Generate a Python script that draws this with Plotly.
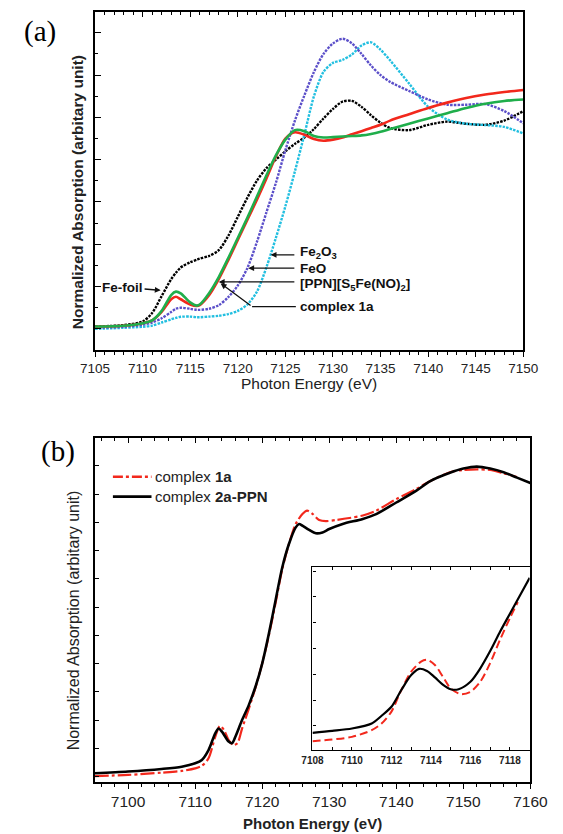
import plotly.graph_objects as go

W, H = 563, 834

# ---------------- Panel (a) data ----------------
energy_a = [7105, 7108, 7110, 7111, 7112, 7113, 7113.5, 7114, 7115, 7115.7, 7116, 7117, 7118,
            7119, 7120, 7121, 7122, 7123, 7124, 7125, 7126, 7127, 7128, 7129, 7130, 7131,
            7132, 7133, 7134, 7135, 7136, 7138, 7140, 7142, 7144, 7146, 7148, 7150]
fe_foil = [0.011, 0.018, 0.035, 0.075, 0.155, 0.235, 0.265, 0.29, 0.315, 0.327, 0.332, 0.345, 0.372,
           0.44, 0.53, 0.62, 0.70, 0.76, 0.80, 0.84, 0.875, 0.905, 0.945, 0.995, 1.04, 1.075,
           1.078, 1.05, 1.01, 0.975, 0.95, 0.94, 0.965, 0.98, 0.97, 0.965, 0.985, 1.03]
complex_1a_a = [0.011, 0.015, 0.027, 0.04, 0.08, 0.14, 0.152, 0.14, 0.115, 0.108, 0.112, 0.16, 0.235,
                0.325, 0.42, 0.515, 0.61, 0.71, 0.815, 0.9, 0.93, 0.918, 0.898, 0.89, 0.895, 0.905,
                0.92, 0.935, 0.95, 0.965, 0.985, 1.015, 1.045, 1.07, 1.092, 1.108, 1.12, 1.13]
ppn_s5fe = [0.011, 0.015, 0.027, 0.04, 0.085, 0.16, 0.176, 0.168, 0.125, 0.11, 0.115, 0.17, 0.245,
            0.335, 0.43, 0.525, 0.625, 0.725, 0.82, 0.895, 0.94, 0.935, 0.912, 0.905, 0.907, 0.91,
            0.912, 0.915, 0.922, 0.932, 0.945, 0.97, 0.995, 1.02, 1.045, 1.065, 1.078, 1.085]
feo = [0.005, 0.01, 0.02, 0.03, 0.05, 0.08, 0.095, 0.1, 0.095, 0.09, 0.09, 0.095, 0.112,
       0.15, 0.205, 0.287, 0.41, 0.55, 0.69, 0.845, 0.985, 1.105, 1.215, 1.30, 1.35, 1.372,
       1.35, 1.30, 1.245, 1.20, 1.168, 1.125, 1.085, 1.06, 1.06, 1.063, 1.03, 0.972]
fe2o3 = [0.0, 0.005, 0.01, 0.015, 0.03, 0.045, 0.052, 0.057, 0.058, 0.055, 0.055, 0.058, 0.062,
         0.07, 0.085, 0.115, 0.175, 0.29, 0.43, 0.58, 0.745, 0.92, 1.10, 1.215, 1.258, 1.272,
         1.298, 1.34, 1.355, 1.32, 1.27, 1.16, 1.05, 0.99, 0.97, 0.964, 0.955, 0.924]

# ---------------- Panel (b) data ----------------
energy_b_2a = [7095, 7100, 7105, 7108, 7110, 7111, 7112, 7113, 7113.5, 7114, 7115, 7115.5, 7116,
               7117, 7118, 7119, 7120, 7121, 7122, 7123, 7124, 7125, 7125.5, 7126, 7127, 7128,
               7129, 7130, 7132, 7135, 7137, 7140, 7143, 7145, 7148, 7150, 7152, 7154, 7156,
               7158, 7160]
complex_2a_ppn = [0.012, 0.018, 0.027, 0.035, 0.047, 0.059, 0.094, 0.153, 0.17, 0.159, 0.124, 0.118,
                  0.141, 0.2, 0.253, 0.318, 0.4, 0.506, 0.624, 0.741, 0.824, 0.882, 0.894, 0.888,
                  0.873, 0.861, 0.864, 0.876, 0.894, 0.912, 0.929, 0.97, 1.012, 1.045, 1.075,
                  1.09, 1.097, 1.09, 1.077, 1.058, 1.039]
energy_b_1a = [7095, 7100, 7105, 7108, 7110, 7111, 7112, 7113, 7113.7, 7114.3, 7115, 7115.7,
               7116.3, 7117, 7118, 7119, 7120, 7121, 7122, 7123, 7124, 7125, 7126, 7126.7,
               7127.5, 7128.5, 7129.5, 7131, 7133, 7135, 7137, 7140, 7143, 7145, 7148, 7150,
               7152, 7154, 7156, 7158]
complex_1a_b = [0.002, 0.006, 0.014, 0.02, 0.029, 0.038, 0.065, 0.141, 0.179, 0.165, 0.129, 0.112,
                0.118, 0.17, 0.24, 0.315, 0.4, 0.5, 0.615, 0.735, 0.824, 0.894, 0.929, 0.941,
                0.93, 0.908, 0.904, 0.908, 0.915, 0.924, 0.941, 0.982, 1.018, 1.045, 1.077,
                1.085, 1.087, 1.085, 1.073, 1.06]

# ---------------- Inset data ----------------
inset_energy_2a = [7108, 7109, 7110, 7111, 7111.5, 7112, 7112.5, 7113, 7113.4, 7113.8, 7114.2,
                   7114.6, 7115, 7115.4, 7116, 7116.5, 7117, 7117.5, 7118, 7118.5, 7119]
inset_2a_ppn = [0.727, 0.805, 0.896, 1.09, 1.39, 1.74, 2.39, 2.97, 3.21, 3.13, 2.88, 2.6,
                2.42, 2.42, 2.71, 3.23, 3.9, 4.65, 5.35, 6.05, 6.74]
inset_energy_1a = [7108, 7109, 7110, 7111, 7111.5, 7112, 7112.5, 7113, 7113.5, 7113.8, 7114.2,
                   7114.6, 7115, 7115.5, 7116, 7116.5, 7117, 7117.5, 7118, 7118.4]
inset_1a = [0.40, 0.47, 0.57, 0.83, 1.09, 1.55, 2.39, 3.10, 3.49, 3.56, 3.36, 2.91, 2.45,
            2.23, 2.32, 2.71, 3.43, 4.34, 5.18, 5.80]

FONT = "Liberation Sans, Arial, sans-serif"
RED = "#f2281c"
GREEN = "#1fae4b"
BLUE = "#5b4fc9"
CYAN = "#22bfe0"


def px(x):
    return x / W


def py(y):
    return 1 - y / H


fig = go.Figure()

# Panel (a) traces
for yv, col, dash, wd in [(fe_foil, "black", "2.5px,1.2px", 2.4), (fe2o3, CYAN, "2.5px,1.2px", 2.4),
                          (feo, BLUE, "2.5px,1.2px", 2.4),
                          (complex_1a_a, RED, "solid", 2.6), (ppn_s5fe, GREEN, "solid", 2.6)]:
    fig.add_trace(go.Scatter(x=energy_a, y=yv, mode="lines", xaxis="x", yaxis="y",
                             line=dict(color=col, width=wd, dash=dash, shape="spline", smoothing=0.8),
                             showlegend=False, hoverinfo="skip"))
# top tick overlay axis for (a)
fig.add_trace(go.Scatter(x=[None], y=[None], xaxis="x4", yaxis="y", showlegend=False, hoverinfo="skip"))

# Panel (b) traces
fig.add_trace(go.Scatter(x=energy_b_1a, y=complex_1a_b, mode="lines", xaxis="x2", yaxis="y2",
                         line=dict(color=RED, width=2.2, dash="14px,3px,3px,3px", shape="spline", smoothing=0.8),
                         showlegend=False, hoverinfo="skip"))
fig.add_trace(go.Scatter(x=energy_b_2a, y=complex_2a_ppn, mode="lines", xaxis="x2", yaxis="y2",
                         line=dict(color="black", width=2.6, shape="spline", smoothing=0.8),
                         showlegend=False, hoverinfo="skip"))
fig.add_trace(go.Scatter(x=[None], y=[None], xaxis="x5", yaxis="y2", showlegend=False, hoverinfo="skip"))

# Inset traces
fig.add_trace(go.Scatter(x=inset_energy_1a, y=inset_1a, mode="lines", xaxis="x3", yaxis="y3",
                         line=dict(color=RED, width=2, dash="8px,4px", shape="spline", smoothing=0.8),
                         showlegend=False, hoverinfo="skip"))
fig.add_trace(go.Scatter(x=inset_energy_2a, y=inset_2a_ppn, mode="lines", xaxis="x3", yaxis="y3",
                         line=dict(color="black", width=2.2, shape="spline", smoothing=0.8),
                         showlegend=False, hoverinfo="skip"))

axis_common = dict(showline=True, linecolor="black", linewidth=1.6, showgrid=False, zeroline=False,
                   tickcolor="black", tickwidth=1.3)

fig.update_layout(
    width=W, height=H, margin=dict(l=0, r=0, t=0, b=0),
    paper_bgcolor="white", plot_bgcolor="white",
    font=dict(family=FONT, color="black"),
    xaxis=dict(domain=[px(85), px(540)], range=[7105, 7150], anchor="y", tick0=7105, dtick=5,
               ticks="outside", ticklen=5, mirror=True,
               minor=dict(dtick=1, ticks="outside", ticklen=3, tickcolor="black", tickwidth=1.1),
               tickfont=dict(size=13.5, family=FONT, color="#222"), **axis_common),
    yaxis=dict(domain=[py(350), py(11.7)], range=[-0.1, 1.5], anchor="x", tick0=0, dtick=0.2,
               ticks="inside", ticklen=6, mirror=True, showticklabels=False,
               minor=dict(dtick=0.1, ticks="inside", ticklen=3, tickcolor="black", tickwidth=1.1),
               **axis_common),
    xaxis4=dict(overlaying="x", side="top", anchor="y", range=[7105, 7150], tick0=7105, dtick=5,
                ticks="inside", ticklen=5, showline=False, showgrid=False, zeroline=False,
                showticklabels=False, tickcolor="black", tickwidth=1.3,
                minor=dict(dtick=1, ticks="inside", ticklen=3, tickcolor="black", tickwidth=1.1)),
    xaxis2=dict(domain=[px(84.5), px(547.5)], range=[7095, 7160], anchor="y2", tick0=7100, dtick=10,
                ticks="outside", ticklen=5, mirror=True,
                minor=dict(dtick=2, ticks="outside", ticklen=3, tickcolor="black", tickwidth=1.1),
                tickfont=dict(size=15.5, family=FONT, color="#222"), **axis_common),
    yaxis2=dict(domain=[py(781.7), py(437.5)], range=[-0.018, 1.2], anchor="x2", tick0=0, dtick=0.1,
                ticks="inside", ticklen=5, mirror=True, showticklabels=False, **axis_common),
    xaxis5=dict(overlaying="x2", side="top", anchor="y2", range=[7095, 7160], tick0=7100, dtick=10,
                ticks="inside", ticklen=5, showline=False, showgrid=False, zeroline=False,
                showticklabels=False, tickcolor="black", tickwidth=1.3,
                minor=dict(dtick=2, ticks="inside", ticklen=3, tickcolor="black", tickwidth=1.1)),
    xaxis3=dict(domain=[px(316), px(546.7)], range=[7108, 7119], anchor="y3", tick0=7108, dtick=2,
                ticks="inside", ticklen=3, mirror="allticks",
                minor=dict(dtick=1, ticks="inside", ticklen=3, tickcolor="black", tickwidth=1),
                tickfont=dict(size=10, family=FONT, color="#222", weight="bold"),
                **axis_common),
    yaxis3=dict(domain=[py(750.3), py(566.8)], range=[0.05, 7.17], anchor="x3", tick0=0, dtick=1,
                ticks="inside", ticklen=3, mirror=True, showticklabels=False, **axis_common),
)
fig.update_layout(xaxis3_linewidth=1.4, yaxis3_linewidth=1.4)

ann = []


def add_text(text, x, y, size, xanchor="center", yanchor="middle", angle=0, family=FONT, color="#222"):
    ann.append(dict(text=text, x=px(x), y=py(y), xref="paper", yref="paper", xanchor=xanchor,
                    yanchor=yanchor, textangle=angle, showarrow=False,
                    font=dict(size=size, family=family, color=color)))


SERIF = "Liberation Serif, Times New Roman, serif"
add_text("(a)", 7, 32, 29, xanchor="left", family=SERIF, color="black")
add_text("(b)", 26, 452, 29, xanchor="left", family=SERIF, color="black")
add_text("<b>Normalized Absorption (arbitary unit)</b>", 66, 192, 15.5, angle=-90)
add_text("Photon Energy (eV)", 312, 383, 15.5)
add_text("Normalized Absorption (arbitary unit)", 62, 620, 16, angle=-90)
add_text("<b>Photon Energy (eV)</b>", 316, 823, 15)

# panel (a) labels with arrows (data coordinates)
lab_font = dict(size=13.5, family=FONT, color="#111")
ann.append(dict(text="<b>Fe-foil</b>", x=7105.5, y=0.196, xref="x", yref="y", xanchor="left",
                yanchor="middle", showarrow=False, font=lab_font))
arrows = [
    (7111.9, 0.182, 7110.05, 0.189),
    (7123.45, 0.35, 7126.1, 0.35),
    (7121.1, 0.287, 7126.1, 0.287),
    (7118.0, 0.222, 7126.1, 0.222),
    (7118.2, 0.215, 7121.5, 0.105),
]
for tx, ty, sx, sy in arrows:
    ann.append(dict(text="", x=tx, y=ty, ax=sx, ay=sy, xref="x", yref="y", axref="x", ayref="y",
                    showarrow=True, arrowhead=2, arrowsize=0.9, arrowwidth=1.3, arrowcolor="#111"))
for text, yy in [("<b>Fe<sub>2</sub>O<sub>3</sub></b>", 0.36), ("<b>FeO</b>", 0.287),
                 ("<b>[PPN][S<sub>5</sub>Fe(NO)<sub>2</sub>]</b>", 0.21), ("<b>complex 1a</b>", 0.105)]:
    ann.append(dict(text=text, x=7126.3, y=yy, xref="x", yref="y", xanchor="left", yanchor="middle",
                    showarrow=False, font=lab_font))

# legend of panel (b)
add_text("complex <b>1a</b>", 147, 476.7, 15, xanchor="left")
add_text("complex <b>2a-PPN</b>", 147, 496.7, 15, xanchor="left")

shapes = [
    dict(type="line", xref="x", yref="y", x0=7126.1, y0=0.105, x1=7121.5, y1=0.105,
         line=dict(color="#111", width=1.3)),
    dict(type="line", xref="paper", yref="paper", x0=px(104), x1=px(145), y0=py(476.7), y1=py(476.7),
         line=dict(color=RED, width=2.4, dash="10px,3px,3px,3px")),
    dict(type="line", xref="paper", yref="paper", x0=px(104), x1=px(145), y0=py(496.7), y1=py(496.7),
         line=dict(color="black", width=2.8)),
]
fig.update_layout(annotations=ann, shapes=shapes)

fig.write_html("out.html")
